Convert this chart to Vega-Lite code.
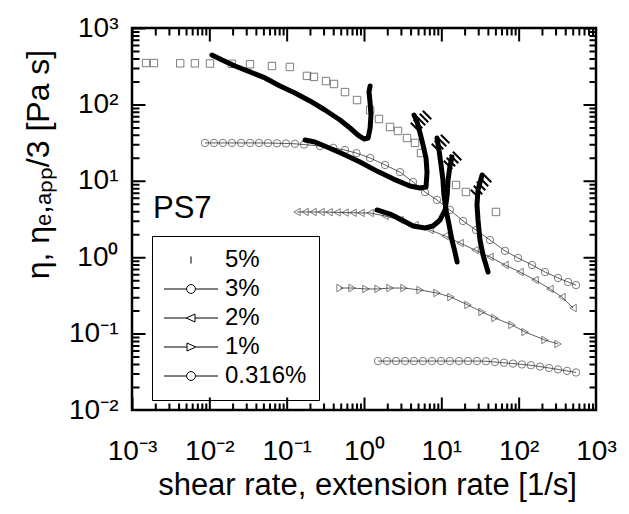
{
  "$schema": "https://vega.github.io/schema/vega-lite/v6.json",
  "width": 464,
  "height": 382,
  "autosize": "none",
  "padding": {"left": 132, "top": 28, "right": 33, "bottom": 104},
  "config": {
    "font": "Liberation Sans",
    "view": {"stroke": "black", "strokeWidth": 2.5},
    "legend": {"strokeWidth": 1},
    "axis": {"grid": false, "tickSize": 0, "labelColor": "black", "titleColor": "black", "labelFont": "Liberation Sans", "titleFont": "Liberation Sans", "titleFontWeight": "normal", "labelFlush": false, "labelOverlap": false}
  },
  "title": {"text": "PS7", "anchor": "start", "frame": "group", "orient": "top", "offset": 0, "baseline": "alphabetic", "dx": 21, "dy": 235, "fontSize": 31, "fontWeight": "normal", "font": "Liberation Sans", "color": "black"},
  "datasets": {
    "shear": [
      {"c":"5%","rate":0.00152,"eta":348},{"c":"5%","rate":0.00192,"eta":348},{"c":"5%","rate":0.0042,"eta":345},{"c":"5%","rate":0.0065,"eta":345},{"c":"5%","rate":0.0102,"eta":343},{"c":"5%","rate":0.0196,"eta":340},{"c":"5%","rate":0.0336,"eta":335},{"c":"5%","rate":0.0646,"eta":318},{"c":"5%","rate":0.110,"eta":309},{"c":"5%","rate":0.183,"eta":236},{"c":"5%","rate":0.225,"eta":229},{"c":"5%","rate":0.323,"eta":202},{"c":"5%","rate":0.409,"eta":185},{"c":"5%","rate":0.568,"eta":145},{"c":"5%","rate":0.813,"eta":114},{"c":"5%","rate":1.20,"eta":84.5},{"c":"5%","rate":1.56,"eta":64.4},{"c":"5%","rate":2.17,"eta":50.6},{"c":"5%","rate":2.75,"eta":44.9},{"c":"5%","rate":3.60,"eta":36.3},{"c":"5%","rate":4.57,"eta":31.3},{"c":"5%","rate":5.46,"eta":23.1},{"c":"5%","rate":15.5,"eta":8.81},{"c":"5%","rate":20.8,"eta":7.13},{"c":"5%","rate":50.9,"eta":3.91},
      {"c":"3%","rate":0.00879,"eta":31.3},{"c":"3%","rate":0.0115,"eta":31.3},{"c":"3%","rate":0.0150,"eta":31.3},{"c":"3%","rate":0.0196,"eta":31.3},{"c":"3%","rate":0.0257,"eta":31.3},{"c":"3%","rate":0.0336,"eta":31.3},{"c":"3%","rate":0.0439,"eta":31.3},{"c":"3%","rate":0.0574,"eta":31.2},{"c":"3%","rate":0.0750,"eta":31.0},{"c":"3%","rate":0.0980,"eta":30.8},{"c":"3%","rate":0.128,"eta":30.5},{"c":"3%","rate":0.168,"eta":29.8},{"c":"3%","rate":0.270,"eta":28.5},{"c":"3%","rate":0.40,"eta":27.0},{"c":"3%","rate":0.568,"eta":25.3},{"c":"3%","rate":0.80,"eta":23.0},{"c":"3%","rate":1.20,"eta":19.9},{"c":"3%","rate":1.87,"eta":16.1},{"c":"3%","rate":2.92,"eta":13.0},{"c":"3%","rate":4.31,"eta":9.64},{"c":"3%","rate":6.15,"eta":7.13},{"c":"3%","rate":8.79,"eta":5.61},{"c":"3%","rate":12.9,"eta":4.15},{"c":"3%","rate":19.1,"eta":2.98},{"c":"3%","rate":28.1,"eta":2.27},{"c":"3%","rate":42.6,"eta":1.68},{"c":"3%","rate":66.6,"eta":1.21},{"c":"3%","rate":98.1,"eta":0.977},{"c":"3%","rate":149,"eta":0.790},{"c":"3%","rate":219,"eta":0.640},{"c":"3%","rate":323,"eta":0.534},{"c":"3%","rate":435,"eta":0.473},{"c":"3%","rate":552,"eta":0.432},
      {"c":"2%","rate":0.136,"eta":3.91},{"c":"2%","rate":0.173,"eta":3.91},{"c":"2%","rate":0.219,"eta":3.91},{"c":"2%","rate":0.278,"eta":3.90},{"c":"2%","rate":0.353,"eta":3.88},{"c":"2%","rate":0.448,"eta":3.86},{"c":"2%","rate":0.568,"eta":3.84},{"c":"2%","rate":0.721,"eta":3.82},{"c":"2%","rate":0.914,"eta":3.80},{"c":"2%","rate":1.20,"eta":3.79},{"c":"2%","rate":1.87,"eta":3.46},{"c":"2%","rate":2.92,"eta":3.07},{"c":"2%","rate":4.57,"eta":2.64},{"c":"2%","rate":7.15,"eta":2.27},{"c":"2%","rate":11.2,"eta":1.89},{"c":"2%","rate":17.5,"eta":1.53},{"c":"2%","rate":27.3,"eta":1.24},{"c":"2%","rate":42.6,"eta":1.01},{"c":"2%","rate":66.6,"eta":0.791},{"c":"2%","rate":104,"eta":0.640},{"c":"2%","rate":163,"eta":0.503},{"c":"2%","rate":254,"eta":0.384},{"c":"2%","rate":363,"eta":0.301},{"c":"2%","rate":505,"eta":0.216},
      {"c":"1%","rate":0.490,"eta":0.395},{"c":"1%","rate":0.700,"eta":0.395},{"c":"1%","rate":1.06,"eta":0.384},{"c":"1%","rate":1.52,"eta":0.384},{"c":"1%","rate":2.17,"eta":0.395},{"c":"1%","rate":3.29,"eta":0.395},{"c":"1%","rate":5.30,"eta":0.372},{"c":"1%","rate":8.79,"eta":0.340},{"c":"1%","rate":13.3,"eta":0.301},{"c":"1%","rate":22.1,"eta":0.237},{"c":"1%","rate":33.6,"eta":0.192},{"c":"1%","rate":49.4,"eta":0.160},{"c":"1%","rate":82.0,"eta":0.130},{"c":"1%","rate":121,"eta":0.105},{"c":"1%","rate":219,"eta":0.0824},{"c":"1%","rate":323,"eta":0.0731},
      {"c":"0.316%","rate":1.52,"eta":0.0437},{"c":"0.316%","rate":1.98,"eta":0.0437},{"c":"0.316%","rate":2.59,"eta":0.0437},{"c":"0.316%","rate":3.39,"eta":0.0437},{"c":"0.316%","rate":4.43,"eta":0.0437},{"c":"0.316%","rate":5.79,"eta":0.0437},{"c":"0.316%","rate":7.57,"eta":0.0437},{"c":"0.316%","rate":9.90,"eta":0.0437},{"c":"0.316%","rate":12.9,"eta":0.0437},{"c":"0.316%","rate":16.9,"eta":0.0437},{"c":"0.316%","rate":22.1,"eta":0.0437},{"c":"0.316%","rate":28.9,"eta":0.0437},{"c":"0.316%","rate":37.8,"eta":0.0435},{"c":"0.316%","rate":49.4,"eta":0.0425},{"c":"0.316%","rate":64.6,"eta":0.0415},{"c":"0.316%","rate":84.5,"eta":0.0405},{"c":"0.316%","rate":110,"eta":0.0395},{"c":"0.316%","rate":144,"eta":0.0385},{"c":"0.316%","rate":189,"eta":0.0370},{"c":"0.316%","rate":247,"eta":0.0355},{"c":"0.316%","rate":323,"eta":0.0340},{"c":"0.316%","rate":422,"eta":0.0325},{"c":"0.316%","rate":552,"eta":0.0310}
    ],
    "ext": [
      {"curve":"A","rate":0.0108,"eta":443},{"curve":"A","rate":0.0146,"eta":381},{"curve":"A","rate":0.0215,"eta":318},{"curve":"A","rate":0.0336,"eta":266},{"curve":"A","rate":0.0525,"eta":222},{"curve":"A","rate":0.082,"eta":174},{"curve":"A","rate":0.128,"eta":141},{"curve":"A","rate":0.200,"eta":111},{"curve":"A","rate":0.313,"eta":84.5},{"curve":"A","rate":0.490,"eta":62.5},{"curve":"A","rate":0.659,"eta":49.1},{"curve":"A","rate":0.837,"eta":39.7},{"curve":"A","rate":1.00,"eta":35.2},{"curve":"A","rate":1.13,"eta":36.3},{"curve":"A","rate":1.20,"eta":49.1},{"curve":"A","rate":1.23,"eta":72.6},{"curve":"A","rate":1.20,"eta":104},{"curve":"A","rate":1.16,"eta":145},{"curve":"A","rate":1.20,"eta":174},
      {"curve":"B","rate":0.173,"eta":34.2},{"curve":"B","rate":0.232,"eta":32.2},{"curve":"B","rate":0.332,"eta":27.7},{"curve":"B","rate":0.536,"eta":22.4},{"curve":"B","rate":0.888,"eta":17.6},{"curve":"B","rate":1.47,"eta":13.4},{"curve":"B","rate":2.37,"eta":10.6},{"curve":"B","rate":3.93,"eta":8.56},{"curve":"B","rate":5.30,"eta":8.05},{"curve":"B","rate":6.34,"eta":8.30},{"curve":"B","rate":6.53,"eta":13.0},{"curve":"B","rate":6.34,"eta":19.9},{"curve":"B","rate":5.80,"eta":29.4},{"curve":"B","rate":5.30,"eta":42.3},{"curve":"B","rate":4.85,"eta":58.9},{"curve":"B","rate":4.44,"eta":72.6},
      {"curve":"C1","rate":8.79,"eta":36.3},{"curve":"C1","rate":9.33,"eta":25.3},{"curve":"C1","rate":9.91,"eta":16.1},{"curve":"C1","rate":10.5,"eta":10.2},{"curve":"C1","rate":10.8,"eta":6.52},{"curve":"C1","rate":11.5,"eta":4.15},{"curve":"C1","rate":12.6,"eta":2.64},{"curve":"C1","rate":13.7,"eta":1.68},{"curve":"C1","rate":15.0,"eta":1.17},{"curve":"C1","rate":16.0,"eta":0.865},
      {"curve":"C2","rate":1.47,"eta":4.15},{"curve":"C2","rate":2.17,"eta":3.67},{"curve":"C2","rate":2.92,"eta":3.16},{"curve":"C2","rate":4.31,"eta":2.56},{"curve":"C2","rate":6.15,"eta":2.41},{"curve":"C2","rate":7.81,"eta":2.56},{"curve":"C2","rate":9.62,"eta":3.07},{"curve":"C2","rate":11.2,"eta":4.15},{"curve":"C2","rate":11.9,"eta":6.52},{"curve":"C2","rate":12.2,"eta":10.2},{"curve":"C2","rate":12.9,"eta":15.2},{"curve":"C2","rate":13.7,"eta":20.5},
      {"curve":"C3","rate":33.6,"eta":11.9},{"curve":"C3","rate":29.8,"eta":7.59},{"curve":"C3","rate":28.9,"eta":4.82},{"curve":"C3","rate":29.8,"eta":3.07},{"curve":"C3","rate":31.6,"eta":1.68},{"curve":"C3","rate":34.6,"eta":1.07},{"curve":"C3","rate":37.8,"eta":0.791},{"curve":"C3","rate":40.2,"eta":0.640}
    ],
    "hatch": [
      {"rate":4.57,"eta":50.6},{"rate":4.99,"eta":55.4},{"rate":5.46,"eta":60.6},{"rate":5.97,"eta":66.4},{"rate":6.53,"eta":72.6},
      {"rate":8.53,"eta":26.9},{"rate":9.33,"eta":29.4},{"rate":10.2,"eta":32.2},{"rate":11.2,"eta":35.2},
      {"rate":12.2,"eta":16.1},{"rate":13.3,"eta":17.6},{"rate":14.6,"eta":19.3},{"rate":16.0,"eta":21.1},
      {"rate":27.3,"eta":6.71},{"rate":29.8,"eta":7.59},{"rate":32.6,"eta":8.56},{"rate":35.6,"eta":9.64},{"rate":39.0,"eta":10.9}
    ]
  },
  "layer": [
    {
      "data": {"name": "shear"},
      "transform": [{"filter": "datum.c !== '5%'"}],
      "mark": {"type": "line", "color": "#333", "strokeWidth": 0.8},
      "encoding": {
        "x": {"field": "rate", "type": "quantitative",
          "scale": {"type": "log", "domain": [0.001, 1000], "nice": false},
          "axis": {"orient": "bottom", "offset": -6.5,
            "domain": true, "domainColor": "black", "domainWidth": 13, "domainDash": [2, 75.333], "domainDashOffset": 1,
            "values": [0.001, 0.01, 0.1, 1, 10, 100, 1000],
            "labelExpr": "'10' + (round(log(datum.value)/LN10) < 0 ? '⁻' : '') + ['⁰','¹','²','³'][abs(round(log(datum.value)/LN10))]",
            "labelFontSize": 28, "labelPadding": 56, "labelBaseline": "alphabetic",
            "title": "shear rate, extension rate [1/s]", "titleFontSize": 31,
            "titleX": 235, "titleY": 91, "titleBaseline": "alphabetic", "titleAlign": "center"}},
        "y": {"field": "eta", "type": "quantitative",
          "scale": {"type": "log", "domain": [0.01, 1000], "nice": false},
          "axis": {"orient": "left", "offset": -6.5,
            "domain": true, "domainColor": "black", "domainWidth": 13, "domainDash": [2, 74.4], "domainDashOffset": 1,
            "values": [0.01, 0.1, 1, 10, 100, 1000],
            "labelExpr": "'10' + (round(log(datum.value)/LN10) < 0 ? '⁻' : '') + ['⁰','¹','²','³'][abs(round(log(datum.value)/LN10))]",
            "labelFontSize": 28, "labelPadding": 20.5, "labelBaseline": "middle",
            "title": "η,  ηₑ,ₐₚₚ/3 [Pa s]", "titleFontSize": 32,
            "titleX": -100.5, "titleY": 136, "titleBaseline": "middle", "titleAlign": "center", "titleAngle": -90}},
        "detail": {"field": "c"}
      }
    },
    {
      "data": {"name": "shear"},
      "transform": [{"filter": "datum.c === '5%'"}],
      "mark": {"type": "point", "shape": "square", "filled": false, "color": "#333", "strokeWidth": 0.9, "size": 55},
      "encoding": {
        "x": {"field": "rate", "type": "quantitative",
          "axis": {"orient": "top", "offset": -6.5, "labels": false, "title": null,
            "domain": true, "domainColor": "black", "domainWidth": 13, "domainDash": [2, 75.333], "domainDashOffset": 1}},
        "y": {"field": "eta", "type": "quantitative",
          "axis": {"orient": "right", "offset": -6.5, "labels": false, "title": null,
            "domain": true, "domainColor": "black", "domainWidth": 13, "domainDash": [2, 74.4], "domainDashOffset": 1}}
      }
    },
    {
      "data": {"name": "shear"},
      "transform": [{"filter": "datum.c === '3%' || datum.c === '0.316%'"}],
      "mark": {"type": "point", "shape": "circle", "filled": false, "color": "#333", "strokeWidth": 0.9, "size": 55},
      "encoding": {
        "x": {"field": "rate", "type": "quantitative", "axis": null},
        "y": {"field": "eta", "type": "quantitative", "axis": null}
      }
    },
    {
      "data": {"name": "shear"},
      "transform": [{"filter": "datum.c === '2%'"}],
      "mark": {"type": "point", "shape": "triangle-left", "filled": false, "color": "#333", "strokeWidth": 0.9, "size": 55},
      "encoding": {
        "x": {"field": "rate", "type": "quantitative", "axis": null},
        "y": {"field": "eta", "type": "quantitative", "axis": null}
      }
    },
    {
      "data": {"name": "shear"},
      "transform": [{"filter": "datum.c === '1%'"}],
      "mark": {"type": "point", "shape": "triangle-right", "filled": false, "color": "#333", "strokeWidth": 0.9, "size": 55},
      "encoding": {
        "x": {"field": "rate", "type": "quantitative", "axis": null},
        "y": {"field": "eta", "type": "quantitative", "axis": null}
      }
    },
    {
      "data": {"name": "shear"},
      "mark": {"type": "point", "filled": false, "color": "black", "opacity": 0, "size": 64},
      "encoding": {
        "x": {"field": "rate", "type": "quantitative", "axis": null},
        "y": {"field": "eta", "type": "quantitative", "axis": null},
        "shape": {"field": "c", "type": "nominal",
          "scale": {"domain": ["5%","3%","2%","1%","0.316%"],
            "range": ["M0,-0.9L0,0.9",
                      "M-6.75,0L-1.1,0M1.1,0L6.75,0M-1.1,0A1.1,1.1,0,1,1,1.1,0A1.1,1.1,0,1,1,-1.1,0Z",
                      "M-6.75,0L-1.2,0M1,0L6.75,0M-1.2,0L1,-1L1,1Z",
                      "M-6.75,0L-1,0M1.2,0L6.75,0M1.2,0L-1,-1L-1,1Z",
                      "M-6.75,0L-1.1,0M1.1,0L6.75,0M-1.1,0A1.1,1.1,0,1,1,1.1,0A1.1,1.1,0,1,1,-1.1,0Z"]},
          "legend": {"orient": "none", "legendX": 20, "legendY": 208, "title": null,
            "strokeColor": "black", "padding": 12, "rowPadding": 5,
            "labelFontSize": 24, "labelFont": "Liberation Sans", "labelColor": "black", "labelOffset": 22, "symbolOffset": 15,
            "symbolStrokeWidth": 1, "symbolSize": 64, "symbolOpacity": 1, "symbolStrokeColor": "black", "symbolFillColor": "transparent"}}
      }
    },
    {
      "data": {"name": "ext"},
      "mark": {"type": "line", "color": "black", "strokeWidth": 5, "strokeCap": "round", "strokeJoin": "round"},
      "encoding": {
        "x": {"field": "rate", "type": "quantitative",
          "axis": {"orient": "bottom", "offset": -3.5, "labels": false, "title": null,
            "domain": true, "domainColor": "black", "domainWidth": 7,
            "domainDash": [2,11.617,2,7.663,2,5.493,2,4.124,2,3.177,2,2.485,2,1.955,2,24.819], "domainDashOffset": 55.053}},
        "y": {"field": "eta", "type": "quantitative",
          "axis": {"orient": "left", "offset": -3.5, "labels": false, "title": null,
            "domain": true, "domainColor": "black", "domainWidth": 7,
            "domainDash": [2,11.453,2,7.547,2,5.402,2,4.050,2,3.115,2,2.430,2,1.908,2,24.495], "domainDashOffset": 54.401}},
        "detail": {"field": "curve"},
        "order": {"value": null}
      }
    },
    {
      "data": {"name": "hatch"},
      "mark": {"type": "point", "filled": false, "color": "black", "strokeWidth": 2, "size": 72, "opacity": 1, "shape": "M-1,-1L1,1"},
      "encoding": {
        "x": {"field": "rate", "type": "quantitative",
          "axis": {"orient": "top", "offset": -3.5, "labels": false, "title": null,
            "domain": true, "domainColor": "black", "domainWidth": 7,
            "domainDash": [2,11.617,2,7.663,2,5.493,2,4.124,2,3.177,2,2.485,2,1.955,2,24.819], "domainDashOffset": 55.053}},
        "y": {"field": "eta", "type": "quantitative",
          "axis": {"orient": "right", "offset": -3.5, "labels": false, "title": null,
            "domain": true, "domainColor": "black", "domainWidth": 7,
            "domainDash": [2,11.453,2,7.547,2,5.402,2,4.050,2,3.115,2,2.430,2,1.908,2,24.495], "domainDashOffset": 54.401}}
      }
    }
  ],
  "resolve": {"axis": {"x": "independent", "y": "independent"}}
}
